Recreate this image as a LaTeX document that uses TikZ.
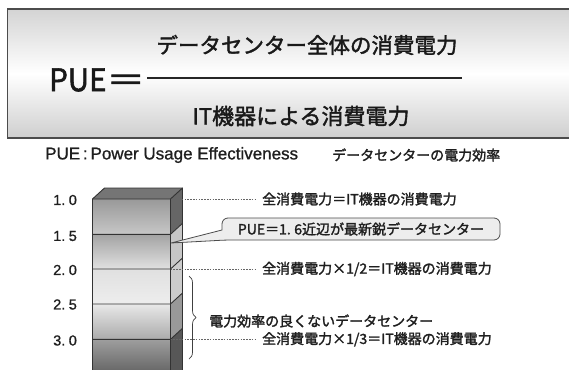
\documentclass[tikz,border=0pt]{standalone}
\usepackage{fontspec}
\newfontfamily\jp{Noto Sans CJK JP}[FakeBold=1.8]
\newfontfamily\lat{Liberation Sans}[FakeBold=1.0]
\usetikzlibrary{decorations.pathreplacing}
\begin{document}
\begin{tikzpicture}[x=1pt,y=-1pt,
  jtxt/.style={font={\jp\fontsize{14}{16}\selectfont}, inner sep=0pt, text=black!88},
  big/.style={font={\jp\fontsize{21.5}{24}\selectfont}, inner sep=0pt, text=black!90},
  edge/.style={draw=black!80, line width=0.9pt},
  dots/.style={draw=black!60, line width=0.7pt, dash pattern=on 1.6pt off 1.2pt},
  lvl/.style={font={\lat\fontsize{14.5}{16}\selectfont}, inner sep=0pt, anchor=west, text=black!88},
]
\clip (0,0) rectangle (569,369);
\fill[white] (0,0) rectangle (569,369);
% header box
\draw[draw=black!70, line width=1.1pt, top color=black!17, bottom color=black!19, middle color=white] (7.5,9) rectangle (580,138);
\node[big] (num) at (307,45) {データセンター全体の消費電力};
\node[big, font={\jp\fontsize{22}{24}\selectfont}] (den) at (301,116) {IT機器による消費電力};
\coordinate (fl) at (147,78);
\coordinate (fr) at (462,78);
\draw[black!85, line width=1.3pt] (fl) -- (fr);
\node[inner sep=0pt, anchor=west, font={\jp\fontsize{31}{34}\selectfont}, text=black!90] (pue) at (49,80) {\scalebox{0.95}[1]{PUE}\scalebox{1.25}[1]{＝}};
% subtitle
\node[inner sep=0pt, anchor=west, font={\lat\fontsize{17}{19}\selectfont}, text=black!88] (sub1) at (45,155) {PUE\,:\,Power Usage Effectiveness};
\node[jtxt, anchor=west] (sub2) at (332,155) {データセンターの電力効率};
% column front segments
\shade[top color=black!40, bottom color=black!22] (92.5,199) rectangle (170.5,234.3);
\shade[top color=black!36, bottom color=black!12] (92.5,234.3) rectangle (170.5,269);
\shade[top color=black!12, bottom color=black!7] (92.5,269) rectangle (170.5,304);
\shade[top color=black!9, bottom color=black!33] (92.5,304) rectangle (170.5,339.3);
\shade[top color=black!38, bottom color=black!60] (92.5,339.3) rectangle (170.5,372);
% side segments
\fill[black!60] (170.5,199) -- (182.5,188) -- (182.5,223.3) -- (170.5,234.3) -- cycle;
\fill[black!22] (170.5,234.3) -- (182.5,223.3) -- (182.5,258) -- (170.5,269) -- cycle;
\fill[black!20] (170.5,269) -- (182.5,258) -- (182.5,293) -- (170.5,304) -- cycle;
\fill[black!40] (170.5,304) -- (182.5,293) -- (182.5,328.3) -- (170.5,339.3) -- cycle;
\fill[black!66] (170.5,339.3) -- (182.5,328.3) -- (182.5,372) -- (170.5,372) -- cycle;
% top face
\fill[black!54] (92.5,199) -- (104.5,188) -- (182.5,188) -- (170.5,199) -- cycle;
% outlines
\draw[edge] (92.5,372) -- (92.5,199) -- (104.5,188) -- (182.5,188) -- (182.5,372);
\draw[edge] (92.5,199) -- (170.5,199) -- (182.5,188);
\draw[edge] (170.5,199) -- (170.5,372);
\foreach \yy in {234.3,269,304,339.3} {
  \draw[edge] (92.5,\yy) -- (170.5,\yy) -- (182.5,\yy-11);
}
% level labels
\node[lvl] (l10) at (53,200) {1.\hspace{3.5pt}0};
\node[lvl] (l15) at (53,236) {1.\hspace{3.5pt}5};
\node[lvl] (l20) at (53,270) {2.\hspace{3.5pt}0};
\node[lvl] (l25) at (53,304.5) {2.\hspace{3.5pt}5};
\node[lvl] (l30) at (53,340.5) {3.\hspace{3.5pt}0};
% dotted leaders and texts
\coordinate (c10) at (170.5,199);
\coordinate (c20) at (170.5,269);
\coordinate (c30) at (170.5,339.3);
\node[jtxt, anchor=west] (t10) at (262,199) {全消費電力＝IT機器の消費電力};
\node[jtxt, anchor=west] (t20) at (262,269) {全消費電力×1/2＝IT機器の消費電力};
\node[jtxt, anchor=west] (t30) at (262,339.3) {全消費電力×1/3＝IT機器の消費電力};
\draw[dots] (c10) -- ([xshift=-7pt]t10.west);
\draw[dots] (c20) -- ([xshift=-7pt]t20.west);
\draw[dots] (c30) -- ([xshift=-7pt]t30.west);
% callout
\coordinate (tip) at (171,243);
\filldraw[fill=black!7, draw=black!70, line width=0.8pt]
  (tip) -- (222,230) [rounded corners=6] -- (222,218) -- (500,218) -- (500,240) -- (226,240) [sharp corners] -- cycle;
\node[jtxt] (call) at (361,229) {PUE＝1.\hspace{3.5pt}6近辺が最新鋭データセンター};
% brace
\coordinate (bt) at (189,276);
\coordinate (bb) at (189,359);
\draw[decorate, decoration={brace, amplitude=7pt}, draw=black!75, line width=0.7pt] (bt) -- (bb);
\node[jtxt, anchor=west] (bad) at (209,321) {電力効率の良くないデータセンター};
\end{tikzpicture}
\end{document}
